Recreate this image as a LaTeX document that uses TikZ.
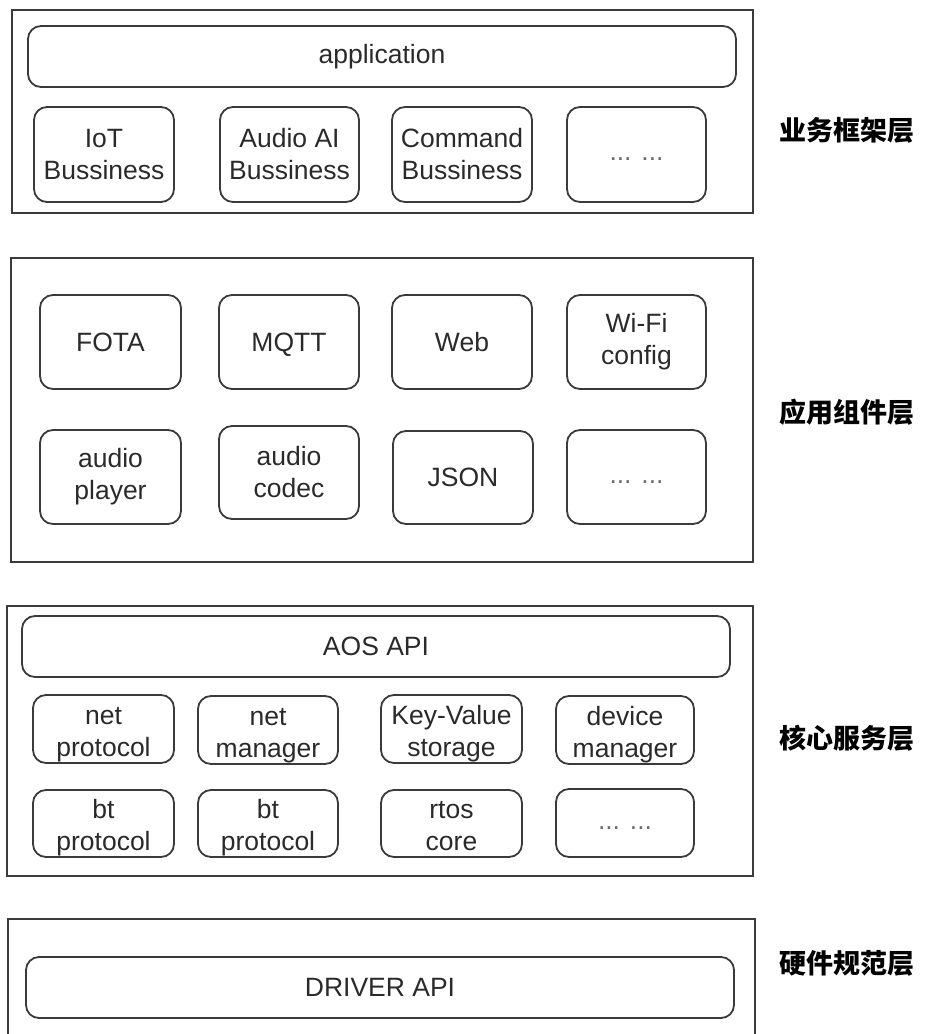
\documentclass[tikz,border=0pt]{standalone}
\usepackage{fontspec}
\setmainfont{Liberation Sans}
\newfontfamily\cjk{Noto Sans CJK SC}
\definecolor{ln}{HTML}{3A3A3A}
\definecolor{tx}{HTML}{2A2A2A}
\newcommand\hstr{\rule{0pt}{28.5pt}}
\newcommand\dstr{\rule[-6pt]{0pt}{6pt}}
\begin{document}
\begin{tikzpicture}[x=1pt,y=-1pt,
  layer/.style={draw=ln,line width=1.8pt,rectangle,inner sep=0pt},
  blk/.style={draw=ln,line width=1.8pt,rectangle,rounded corners=13pt,inner sep=0pt,align=center,
     text=tx,font=\fontsize{26.5}{32}\selectfont},
  dots/.style={text=gray!85!black},
  lbl/.style={text=black,font=\cjk\bfseries\fontsize{27}{32}\selectfont,inner sep=0pt}]
\useasboundingbox (0,0) rectangle (929,1034);
% ---- layer 1
\node[layer,minimum width=741pt,minimum height=203pt] (L1) at (382.5,111.5) {};
\node[blk,minimum width=708pt,minimum height=61pt] (app) at (382,56.5) {application};
\node[blk,minimum width=140pt,minimum height=95pt] (iot) at (104,154.5) {IoT\\Bussiness};
\node[blk,minimum width=139pt,minimum height=95pt] (aai) at (289.5,154.5) {Audio AI\\Bussiness};
\node[blk,minimum width=140pt,minimum height=95pt] (cmd) at (462,154.5) {Command\\Bussiness};
\node[blk,dots,minimum width=139pt,minimum height=95pt] (d1) at (636.5,154.5) {\strut... ...};
\node[lbl] (t1) at (847,130) {业务框架层};
% ---- layer 2
\node[layer,minimum width=742pt,minimum height=304pt] (L2) at (382,410) {};
\node[blk,minimum width=141pt,minimum height=94pt] (fota) at (110.5,342) {FOTA};
\node[blk,minimum width=140pt,minimum height=94pt] (mqtt) at (289,342) {\raisebox{0pt}[\height][0pt]{MQTT}};
\node[blk,minimum width=140pt,minimum height=94pt] (web) at (462,342) {Web};
\node[blk,minimum width=139pt,minimum height=94pt] (wifi) at (636.5,342) {Wi-Fi\\config};
\node[blk,minimum width=141pt,minimum height=94pt] (aplay) at (110.5,477) {audio\\player};
\node[blk,minimum width=140pt,minimum height=93pt] (acod) at (289,472.5) {audio\\codec};
\node[blk,minimum width=140pt,minimum height=93pt] (json) at (463,477.5) {JSON};
\node[blk,dots,minimum width=139pt,minimum height=94pt] (d2) at (636.5,477) {\strut... ...};
\node[lbl] (t2) at (847,412) {应用组件层};
% ---- layer 3
\node[layer,minimum width=746pt,minimum height=270pt] (L3) at (380,741) {};
\node[blk,minimum width=708pt,minimum height=61pt] (aos) at (376,646.5) {AOS API};
\node[blk,minimum width=141pt,minimum height=68pt] (netp) at (103.5,729) {\hstr net\\protocol\dstr};
\node[blk,minimum width=140pt,minimum height=68pt] (netm) at (268,730) {\hstr net\\manager\dstr};
\node[blk,minimum width=141pt,minimum height=68pt] (kv) at (451.5,729) {\hstr Key-Value\\storage\dstr};
\node[blk,minimum width=138pt,minimum height=68pt] (devm) at (625,730) {\hstr device\\manager\dstr};
\node[blk,minimum width=141pt,minimum height=67pt] (btp1) at (103.5,823.5) {\hstr bt\\protocol\dstr};
\node[blk,minimum width=140pt,minimum height=67pt] (btp2) at (268,823.5) {\hstr bt\\protocol\dstr};
\node[blk,minimum width=141pt,minimum height=67pt] (rtos) at (451.5,823.5) {\hstr rtos\\core\dstr};
\node[blk,dots,minimum width=138pt,minimum height=68pt] (d3) at (625,823) {\strut... ...};
\node[lbl] (t3) at (847,738) {核心服务层};
% ---- layer 4
\coordinate (b4l) at (8,1040);
\coordinate (b4r) at (755,1040);
\draw[ln,line width=1.8pt] (b4l) -- (8,919) -- (755,919) -- (b4r);
\node[blk,minimum width=708pt,minimum height=61pt] (drv) at (380,987.5) {DRIVER API};
\node[lbl] (t4) at (847,963) {硬件规范层};
\end{tikzpicture}
\end{document}
